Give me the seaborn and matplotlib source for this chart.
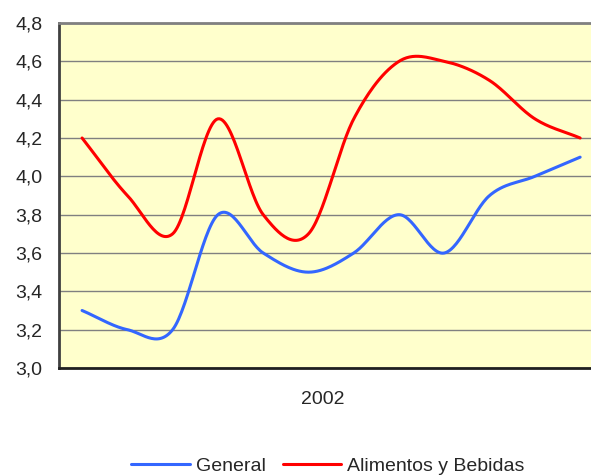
import numpy as np
import pandas as pd
import matplotlib
matplotlib.use("Agg")
import matplotlib.pyplot as plt
import seaborn as sns

# Data (12 monthly values, year 2002)
months = list(range(1, 13))
general = [3.3, 3.2, 3.2, 3.8, 3.6, 3.5, 3.6, 3.8, 3.6, 3.9, 4.0, 4.1]
alimentos = [4.2, 3.9, 3.7, 4.3, 3.8, 3.7, 4.3, 4.6, 4.6, 4.5, 4.3, 4.2]
series_names = ["General", "Alimentos y Bebidas"]
y_ticks = [3.0, 3.2, 3.4, 3.6, 3.8, 4.0, 4.2, 4.4, 4.6, 4.8]
x_label = "2002"


def smooth(xs, ys, n=30):
    """Catmull-Rom rendering of a smoothed line (Excel-style smoothing)."""
    xs = np.asarray(xs, float)
    ys = np.asarray(ys, float)
    px = np.concatenate([[2 * xs[0] - xs[1]], xs, [2 * xs[-1] - xs[-2]]])
    py = np.concatenate([[2 * ys[0] - ys[1]], ys, [2 * ys[-1] - ys[-2]]])
    outx, outy = [], []
    for i in range(1, len(px) - 2):
        t = np.linspace(0, 1, n, endpoint=False)
        for arr, out in ((px, outx), (py, outy)):
            p0, p1, p2, p3 = arr[i - 1], arr[i], arr[i + 1], arr[i + 2]
            m1 = (p2 - p0) / 2
            m2 = (p3 - p1) / 2
            h00 = 2 * t**3 - 3 * t**2 + 1
            h10 = t**3 - 2 * t**2 + t
            h01 = -2 * t**3 + 3 * t**2
            h11 = t**3 - t**2
            out.extend(h00 * p1 + h10 * m1 + h01 * p2 + h11 * m2)
    outx.append(xs[-1])
    outy.append(ys[-1])
    return np.array(outx), np.array(outy)


frames = []
for name, vals in zip(series_names, [general, alimentos]):
    sx, sy = smooth(months, vals)
    frames.append(pd.DataFrame({"x": sx, "y": sy, "serie": name}))
df = pd.concat(frames, ignore_index=True)

sns.set_style("white")
plt.rcParams["font.family"] = ["Liberation Sans", "DejaVu Sans"]
FS = 14

fig = plt.figure(figsize=(5.91, 4.75), dpi=100)
ax = fig.add_axes([59 / 591, 1 - 368 / 475, (591 - 59) / 591, (368 - 23) / 475])
ax.set_facecolor("#FFFFCC")

sns.lineplot(data=df, x="x", y="y", hue="serie", sort=False,
             palette={"General": "#3366FF", "Alimentos y Bebidas": "#FF0000"},
             linewidth=2.2, ax=ax, legend=True)

ax.set_xlim(0.49, 12.24)
ax.set_ylim(3.0, 4.8)
ax.set_yticks(y_ticks)
ax.set_yticklabels([f"{v:.1f}".replace(".", ",") for v in y_ticks], fontsize=FS)
ax.set_xticks([])
ax.set_xlabel("")
ax.set_ylabel("")
ax.yaxis.grid(True, color="#808080", linewidth=1.0)
ax.set_axisbelow(True)
ax.tick_params(axis="y", length=4.5, width=1, color="#333333", direction="out", pad=7.5)

ax.spines["left"].set_color("#404040")
ax.spines["left"].set_linewidth(2)
ax.spines["bottom"].set_color("#202020")
ax.spines["bottom"].set_linewidth(2)
ax.spines["top"].set_color("#808080")
ax.spines["top"].set_linewidth(2)
ax.spines["right"].set_visible(False)

fig.text(323 / 591, 1 - 399 / 475, x_label, ha="center", va="center", fontsize=FS)

handles, labels = ax.get_legend_handles_labels()
ax.legend(handles, labels, loc="center", bbox_to_anchor=(328 / 591, 1 - 466 / 475),
          bbox_transform=fig.transFigure, ncol=2, frameon=False, fontsize=FS,
          handlelength=3.0, handletextpad=0.3, columnspacing=0.9)

fig.savefig("out.png", dpi=100)
